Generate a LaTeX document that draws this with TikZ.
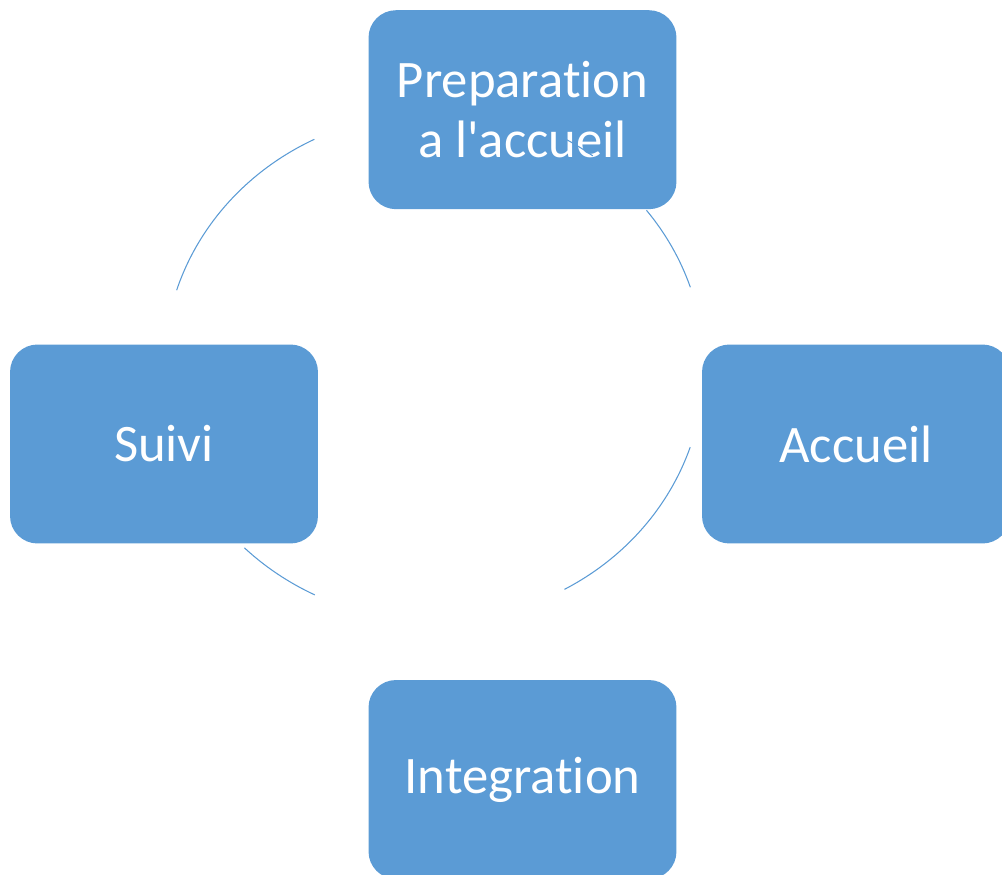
\documentclass[tikz,border=0pt]{standalone}
\usepackage{fontspec}
\newfontfamily\boxfont{Carlito}[RawFeature=-liga]
\definecolor{cycleblue}{HTML}{5B9BD5}

\begin{document}
\begin{tikzpicture}[
      x=0.02cm, y=-0.02cm,
      etape/.style={fill=cycleblue, text=white, rounded corners=0.55cm,
        minimum width=6.16cm, minimum height=3.98cm, inner sep=0pt,
        align=center, font=\boxfont\fontsize{30}{34}\selectfont},
      lien/.style={draw=cycleblue, line width=0.6pt},]
      \clip (0,0) rectangle (1002,875);
      \node[etape] (prep) at (522.5,109.7) {Preparation\\a l'accueil};
      \node[etape] (accueil) at (856,444) {Accueil};
      \node[etape] (integ) at (522.5,779.5) {Integration};
      \node[etape] (suivi) at (164,444) {Suivi};
      \coordinate (centre) at (434,367);
      \draw[lien] (centre) ++(197.6:270 and 254) arc[start angle=197.6, end angle=243.7, x radius=270, y radius=254];
      \draw[lien] (centre) ++(321.9:270 and 254) arc[start angle=321.9, end angle=341.7, x radius=270, y radius=254];
      \draw[lien] (centre) ++(18.4:270 and 254) arc[start angle=18.4, end angle=61.1, x radius=270, y radius=254];
      \draw[lien] (centre) ++(116.2:270 and 254) arc[start angle=116.2, end angle=134.6, x radius=270, y radius=254];
      % trace of the arc seen through the text
      \draw[lien] (centre) ++(299:270 and 261) arc[start angle=299, end angle=306, x radius=270, y radius=261];
    \end{tikzpicture}
\end{document}
